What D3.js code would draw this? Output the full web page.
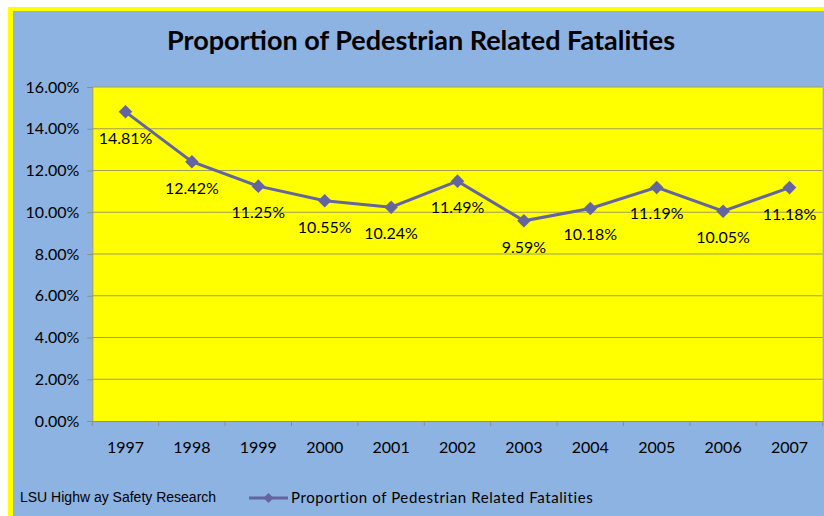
<!DOCTYPE html>
<html><head><meta charset="utf-8">
<script src="https://cdn.jsdelivr.net/npm/d3@7/dist/d3.min.js"></script>
<style>body{margin:0;background:#fff}svg{display:block}</style>
</head><body>
<svg id="c" width="824" height="516"></svg>
<script>
const years = ["1997","1998","1999","2000","2001","2002","2003","2004","2005","2006","2007"];
const values = [14.81,12.42,11.25,10.55,10.24,11.49,9.59,10.18,11.19,10.05,11.18];
const yTicks = [0,2,4,6,8,10,12,14,16];
const title = "Proportion of Pedestrian Related Fatalities";
const seriesName = "Proportion of Pedestrian Related Fatalities";
const credit = "LSU Highw ay Safety Research";

const svg = d3.select("#c");
const W = 824, H = 516;
const plot = {l: 92.3, t: 87, r: 822.7, b: 421};
const lineColor = "#64649F";
const numFont = "Lato, 'Open Sans', sans-serif";

// frame
svg.append("rect").attr("x",8).attr("y",7).attr("width",W).attr("height",H).attr("fill","#FFFF00");
svg.append("rect").attr("x",13).attr("y",11).attr("width",W).attr("height",H).attr("fill","#8DB3E2");

// title
svg.append("text").attr("x",421).attr("y",50).attr("text-anchor","middle")
  .attr("font-family",numFont).attr("font-weight","bold").attr("font-size",27)
  .attr("fill","#000").text(title);

const x = d3.scaleBand().domain(years).range([plot.l, plot.r]).padding(0);
const y = d3.scaleLinear().domain([0,16]).range([plot.b, plot.t]);

// plot bg
svg.append("rect").attr("x",plot.l).attr("y",plot.t).attr("width",plot.r-plot.l).attr("height",plot.b-plot.t).attr("fill","#FFFF00");

// gridlines
svg.append("g").selectAll("line").data(yTicks.filter(d=>d>0)).join("line")
  .attr("x1",plot.l).attr("x2",plot.r).attr("y1",d=>y(d)).attr("y2",d=>y(d))
  .attr("stroke","#A09C5C").attr("stroke-width",1);

// y axis
const yAxis = d3.axisLeft(y).tickValues(yTicks).tickFormat(d=>d.toFixed(2)+"%").tickSize(5).tickPadding(8);
const gy = svg.append("g").attr("transform",`translate(${plot.l},0)`).call(yAxis);
gy.select(".domain").attr("stroke","#8C8C8C");
gy.selectAll(".tick line").attr("stroke","#8C8C8C");
gy.selectAll("text").attr("font-family",numFont).attr("font-size",16).attr("fill","#000");

// x axis
const xAxis = d3.axisBottom(x).tickSize(0).tickPadding(21);
const gx = svg.append("g").attr("transform",`translate(0,${plot.b})`).call(xAxis);
gx.select(".domain").attr("stroke","#8C8C8C");
gx.selectAll("text").attr("font-family",numFont).attr("font-size",16).attr("fill","#000");
// boundary ticks
const bounds = years.map(d=>x(d)).concat([x(years[years.length-1])+x.bandwidth()]);
svg.append("g").selectAll("line").data(bounds).join("line")
  .attr("x1",d=>d).attr("x2",d=>d).attr("y1",plot.b).attr("y2",plot.b+5)
  .attr("stroke","#8C8C8C");

const cx = d=>x(d.year)+x.bandwidth()/2;
const data = years.map((yr,i)=>({year:yr,v:values[i]}));

// line
svg.append("path").datum(data)
  .attr("d",d3.line().x(cx).y(d=>y(d.v)))
  .attr("fill","none").attr("stroke",lineColor).attr("stroke-width",3);

// markers
const diamond = d3.symbol().type(d3.symbolSquare).size(92);
svg.append("g").selectAll("path").data(data).join("path")
  .attr("d",diamond).attr("transform",d=>`translate(${cx(d)},${y(d.v)}) rotate(45)`)
  .attr("fill",lineColor);

// labels
svg.append("g").selectAll("text").data(data).join("text")
  .attr("x",cx).attr("y",d=>y(d.v)+32).attr("text-anchor","middle")
  .attr("font-family",numFont).attr("font-size",16).attr("fill","#000")
  .text(d=>d.v.toFixed(2)+"%");

// credit
svg.append("text").attr("x",20).attr("y",502)
  .attr("font-family","'Liberation Sans', Arial, sans-serif").attr("font-size",14).attr("fill","#000")
  .text(credit);

// legend
const lg = svg.append("g");
lg.append("line").attr("x1",249).attr("x2",288).attr("y1",498).attr("y2",498).attr("stroke",lineColor).attr("stroke-width",3);
lg.append("path").attr("d",d3.symbol().type(d3.symbolSquare).size(50)).attr("transform","translate(268.5,498) rotate(45)").attr("fill",lineColor);
lg.append("text").attr("x",291).attr("y",503)
  .attr("font-family",numFont).attr("font-size",15).attr("letter-spacing",0.6).attr("fill","#000")
  .text(seriesName);
</script>
</body></html>
